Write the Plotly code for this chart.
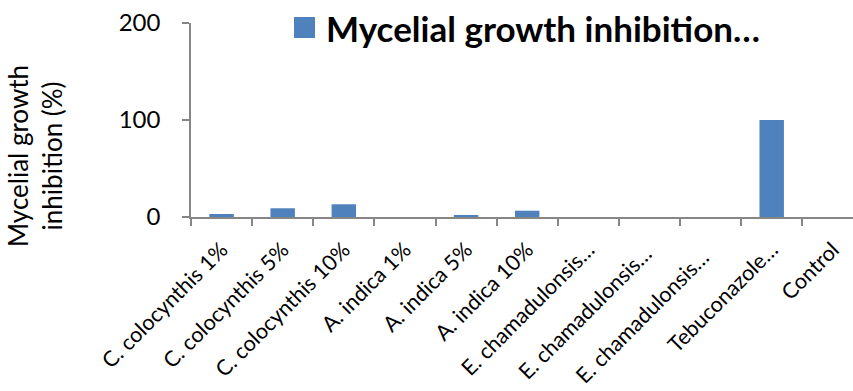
import plotly.graph_objects as go

# Treatments and their mycelial growth inhibition (%)
categories = [
    "C. colocynthis 1%",
    "C. colocynthis 5%",
    "C. colocynthis 10%",
    "A. indica 1%",
    "A. indica 5%",
    "A. indica 10%",
    "E. chamadulonsis…",
    "E. chamadulonsis… ",
    "E. chamadulonsis…  ",
    "Tebuconazole…",
    "Control",
]
inhibition = [3.1, 9.0, 13.1, 0, 2.1, 6.5, 0, 0, 0, 100, 0]
y_ticks = [0, 100, 200]

series_name = "Mycelial growth inhibition…"
bar_color = "#4F81BD"
axis_color = "#868686"
font_family = "Lato, Open Sans, DejaVu Sans, sans-serif"

fig = go.Figure(
    go.Bar(
        x=categories,
        y=inhibition,
        name=series_name,
        marker=dict(color=bar_color, line=dict(width=0)),
        width=0.4,
        showlegend=False,
    )
)

W, H = 853, 391
L, R, T, B = 191, 0, 23, 174

fig.update_layout(
    width=W,
    height=H,
    margin=dict(l=L, r=R, t=T, b=B, pad=0, autoexpand=False),
    paper_bgcolor="white",
    plot_bgcolor="white",
    font=dict(family=font_family, color="#000000", size=20),
)

fig.update_xaxes(
    type="category",
    range=[-0.5, 10.33],
    automargin=False,
    showline=True,
    linecolor=axis_color,
    linewidth=1.5,
    ticks="outside",
    tickson="boundaries",
    ticklen=7,
    tickwidth=1.5,
    tickcolor=axis_color,
    tickangle=-45,
    tickfont=dict(size=21.5),
    ticklabelstandoff=10,
    showgrid=False,
    zeroline=False,
)

fig.update_yaxes(
    range=[0, 200],
    automargin=False,
    tickvals=y_ticks,
    ticktext=[str(v) for v in y_ticks],
    showline=True,
    linecolor=axis_color,
    linewidth=1.5,
    ticks="outside",
    ticklen=7,
    tickwidth=1.5,
    tickcolor=axis_color,
    tickfont=dict(size=24),
    ticklabelstandoff=17,
    showgrid=False,
    zeroline=False,
)

plot_w = W - L - R
plot_h = H - T - B

def px_x(px):
    return (px - L) / plot_w

def px_y(py):
    return (H - B - py) / plot_h

# Axis title
fig.add_annotation(
    text="Mycelial growth<br>inhibition (%)",
    textangle=-90,
    xref="paper", yref="paper",
    x=px_x(35), y=px_y(156),
    xanchor="center", yanchor="middle",
    showarrow=False,
    font=dict(size=26, color="#000000"),
)

# Legend key and label
fig.add_shape(
    type="rect",
    xref="paper", yref="paper",
    x0=px_x(294), x1=px_x(315), y0=px_y(38), y1=px_y(17),
    fillcolor=bar_color, line=dict(width=0),
)
fig.add_annotation(
    text="<b>" + series_name + "</b>",
    xref="paper", yref="paper",
    x=px_x(324), y=px_y(28),
    xanchor="left", yanchor="middle",
    showarrow=False,
    font=dict(size=35, color="#000000"),
)

fig.write_html("out.html")
